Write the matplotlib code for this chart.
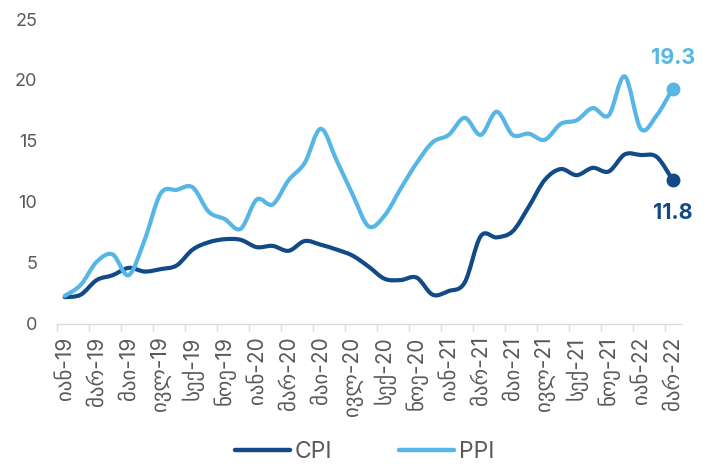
"""
CPI and PPI annual inflation, Jan-2019 to Mar-2022 (smoothed lines).
"""

import numpy as np
import matplotlib
matplotlib.use("Agg")
import matplotlib.pyplot as plt
from matplotlib.path import Path
from matplotlib.patches import PathPatch

plt.rcParams["font.family"] = ["Inter", "DejaVu Sans"]

# ---------------------------------------------------------------------------
# Data
# ---------------------------------------------------------------------------
months = ["იან", "თებ", "მარ", "აპრ", "მაი", "ივნ",
          "ივლ", "აგვ", "სექ", "ოქტ", "ნოე", "დეკ"]
periods = [f"{months[i % 12]}-{19 + i // 12}" for i in range(39)]

cpi = [2.2, 2.4, 3.6, 4.0, 4.6, 4.3, 4.5, 4.8, 6.1, 6.7, 6.95, 6.9,
       6.3, 6.4, 6.0, 6.8, 6.5, 6.1, 5.6, 4.7, 3.7, 3.6, 3.8, 2.4,
       2.7, 3.4, 7.2, 7.1, 7.6, 9.6, 11.8, 12.7, 12.2, 12.8, 12.5, 13.9,
       13.85, 13.7, 11.8]
ppi = [2.3, 3.2, 5.1, 5.7, 4.0, 6.9, 10.7, 11.0, 11.2, 9.2, 8.6, 7.8,
       10.2, 9.8, 11.8, 13.2, 16.0, 13.4, 10.6, 8.0, 8.9, 11.1, 13.2, 14.9,
       15.5, 16.9, 15.5, 17.4, 15.5, 15.6, 15.1, 16.4, 16.7, 17.7, 17.1, 20.3,
       16.0, 17.1, 19.3]

CPI_COLOR = "#124a88"
PPI_COLOR = "#56b6e6"
TEXT_COLOR = "#595959"


def smooth_path(xs, ys):
    """Bezier path through the points, like Excel's smoothed line."""
    pts = np.column_stack([xs, ys]).astype(float)
    n = len(pts)
    verts = [pts[0]]
    codes = [Path.MOVETO]
    for i in range(n - 1):
        p0 = pts[i - 1] if i > 0 else pts[i]
        p1 = pts[i]
        p2 = pts[i + 1]
        p3 = pts[i + 2] if i + 2 < n else pts[i + 1]
        c1 = p1 + (p2 - p0) / 6.0
        c2 = p2 - (p3 - p1) / 6.0
        verts += [c1, c2, p2]
        codes += [Path.CURVE4] * 3
    return Path(verts, codes)


# ---------------------------------------------------------------------------
# Plot
# ---------------------------------------------------------------------------
fig = plt.figure(figsize=(7.11, 4.68), dpi=100)
ax = fig.add_axes([0.0797, 0.3077, 0.8777, 0.6517])

x = np.arange(len(periods))
for vals, col in [(cpi, CPI_COLOR), (ppi, PPI_COLOR)]:
    ax.add_patch(PathPatch(smooth_path(x, vals), fill=False, edgecolor=col,
                           lw=3, capstyle="round", joinstyle="round"))
    ax.plot(x[-1], vals[-1], "o", color=col, ms=9, zorder=3)

# legend proxies
ax.plot([], [], color=CPI_COLOR, lw=3.2, solid_capstyle="round", label="CPI")
ax.plot([], [], color=PPI_COLOR, lw=3.2, solid_capstyle="round", label="PPI")

ax.annotate(f"{ppi[-1]:.1f}", (x[-1], ppi[-1]), xytext=(0, 22),
            textcoords="offset points", ha="center", va="center",
            fontsize=15.5, fontweight="bold", color=PPI_COLOR)
ax.annotate(f"{cpi[-1]:.1f}", (x[-1], cpi[-1]), xytext=(0, -24),
            textcoords="offset points", ha="center", va="center",
            fontsize=15.5, fontweight="bold", color=CPI_COLOR)

ax.set_xlim(-0.5, len(periods) - 0.5)
ax.set_ylim(0, 25)
ax.set_yticks(range(0, 26, 5))

ax.set_xticks(x[::2])
ax.set_xticklabels(periods[::2], rotation=90, fontsize=15, color=TEXT_COLOR)
ax.set_xticks(np.arange(-0.5, len(periods) - 1, 2), minor=True)
ax.tick_params(axis="x", which="major", length=0, pad=9)
ax.tick_params(axis="x", which="minor", length=5, color="#d9d9d9", width=1)
ax.tick_params(axis="y", length=0, pad=14, labelsize=13, labelcolor=TEXT_COLOR)

for side in ["top", "right", "left"]:
    ax.spines[side].set_visible(False)
ax.spines["bottom"].set_color("#d9d9d9")
ax.spines["bottom"].set_linewidth(1)

fig.legend(loc="center", bbox_to_anchor=(0.513, 0.034), ncol=2,
           frameon=False, fontsize=16.5, handlelength=2.4, columnspacing=2.9,
           handletextpad=0.2, labelcolor=TEXT_COLOR)

fig.savefig("out.png", dpi=100)
